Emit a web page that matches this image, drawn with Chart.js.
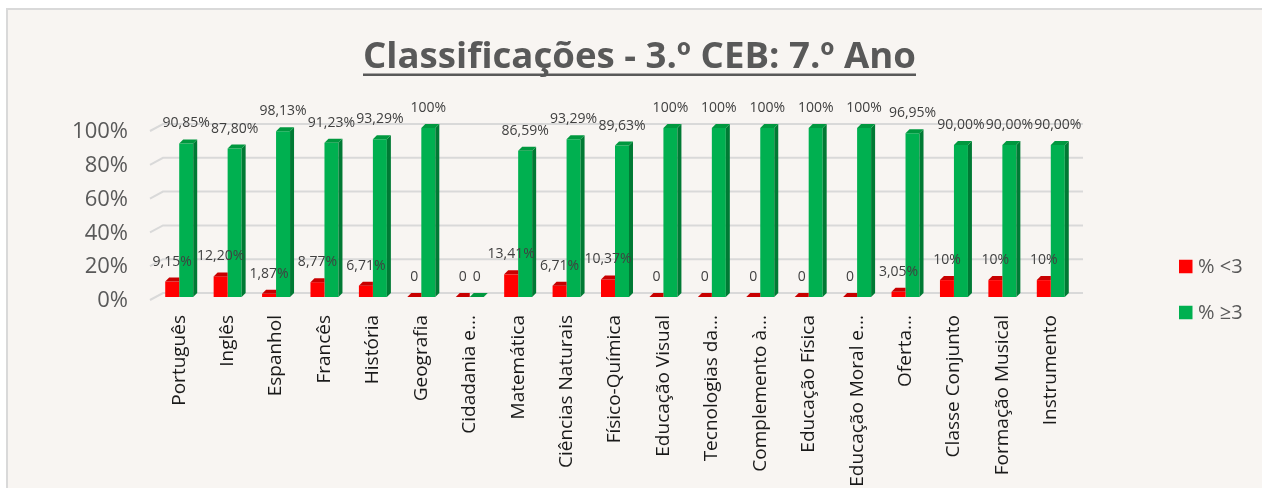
<!DOCTYPE html>
<html><head><meta charset="utf-8">
<script src="https://cdn.jsdelivr.net/npm/chart.js@4.4.1/dist/chart.umd.min.js"></script>
<style>
html,body{margin:0;padding:0;background:#fff;width:1262px;height:488px;overflow:hidden}
#frame{position:absolute;left:6px;top:8px;width:1270px;height:490px;background:#f8f5f2;border-left:2px solid #d9d9d9;border-top:2px solid #d9d9d9}
#wrap{position:absolute;left:0;top:0;width:1262px;height:488px}
</style></head><body>
<div id="frame"></div>
<div id="wrap"><canvas id="c" width="1262" height="488"></canvas></div>
<script>
const titleText = 'Classificações - 3.º CEB: 7.º Ano';
const categories = ['Português','Inglês','Espanhol','Francês','História','Geografia','Cidadania e...','Matemática','Ciências Naturais','Físico-Química','Educação Visual','Tecnologias da...','Complemento à...','Educação Física','Educação Moral e...','Oferta...','Classe Conjunto','Formação Musical','Instrumento'];
const seriesNames = ['% <3', '% \u22653'];
const lowValues = [9.15,12.20,1.87,8.77,6.71,0,0,13.41,6.71,10.37,0,0,0,0,0,3.05,10,10,10];
const highValues = [90.85,87.80,98.13,91.23,93.29,100,0,86.59,93.29,89.63,100,100,100,100,100,96.95,90,90,90];
const lowLabels = ['9,15%','12,20%','1,87%','8,77%','6,71%','0','0','13,41%','6,71%','10,37%','0','0','0','0','0','3,05%','10%','10%','10%'];
const highLabels = ['90,85%','87,80%','98,13%','91,23%','93,29%','100%','0','86,59%','93,29%','89,63%','100%','100%','100%','100%','100%','96,95%','90,00%','90,00%','90,00%'];
const yTickValues = [0,20,40,60,80,100];

const frontColors = ['#ff0000', '#00b050'];
const topColors = ['#c80000', '#00983f'];
const sideColors = ['#a00000', '#007a34'];
const pointLabels = [lowLabels, highLabels];

const DX = 4, DY = 4;

const backGrid = {
  id: 'backGrid',
  beforeDatasetsDraw(chart) {
    const ctx = chart.ctx, ys = chart.scales.y, a = chart.chartArea;
    ctx.save();
    ctx.strokeStyle = '#d9d9d9';
    ctx.lineWidth = 2;
    ys.ticks.forEach(t => {
      const py = ys.getPixelForValue(t.value);
      ctx.beginPath();
      ctx.moveTo(a.left - 5, py + 3);
      ctx.lineTo(a.left + 8, py - 4);
      ctx.lineTo(a.right + 8, py - 4);
      ctx.stroke();
    });
    ctx.restore();
  }
};

// 3D faces: the red column's right side is hidden behind the adjacent green column
const bar3d = {
  id: 'bar3d',
  afterDatasetsDraw(chart) {
    const ctx = chart.ctx;
    ctx.save();
    chart.data.datasets.forEach((ds, i) => {
      const last = i === chart.data.datasets.length - 1;
      chart.getDatasetMeta(i).data.forEach(el => {
        const p = el.getProps(['x','y','base','width'], true);
        const l = p.x - p.width / 2, r = p.x + p.width / 2;
        if (last) {
          ctx.fillStyle = sideColors[i];
          ctx.beginPath();
          ctx.moveTo(r, p.y); ctx.lineTo(r + DX, p.y - DY); ctx.lineTo(r + DX, p.base - DY); ctx.lineTo(r, p.base);
          ctx.closePath(); ctx.fill();
        }
        const rr = last ? r + DX : r;
        ctx.fillStyle = topColors[i];
        ctx.beginPath();
        ctx.moveTo(l, p.y); ctx.lineTo(l + DX, p.y - DY); ctx.lineTo(rr, p.y - DY); ctx.lineTo(r, p.y);
        ctx.closePath(); ctx.fill();
      });
    });
    ctx.restore();
  }
};

const valueLabels = {
  id: 'valueLabels',
  afterDatasetsDraw(chart) {
    const ctx = chart.ctx;
    ctx.save();
    ctx.font = '14px "Open Sans"';
    ctx.fillStyle = '#404040';
    ctx.textAlign = 'center';
    ctx.textBaseline = 'middle';
    chart.data.datasets.forEach((ds, i) => {
      chart.getDatasetMeta(i).data.forEach((el, j) => {
        ctx.fillText(pointLabels[i][j], el.x, el.y - 20);
      });
    });
    ctx.restore();
  }
};

const titleAndLegend = {
  id: 'titleAndLegend',
  afterDraw(chart) {
    const ctx = chart.ctx;
    ctx.save();
    // title
    ctx.font = 'bold 36px "Open Sans"';
    ctx.fillStyle = '#595959';
    ctx.textBaseline = 'alphabetic';
    ctx.textAlign = 'left';
    const w = ctx.measureText(titleText).width;
    const target = 553;
    const sx = target / w;
    const cx = 639.5, base = 68;
    ctx.save();
    ctx.translate(cx - target / 2, base);
    ctx.scale(sx, 1);
    ctx.fillText(titleText, 0, 0);
    ctx.restore();
    ctx.fillRect(cx - target / 2, 73.5, target, 2.5);
    // legend
    const a = chart.chartArea;
    const lx = a.right + 104;
    const centers = [266.5, 312.5];
    ctx.font = '20px "Open Sans"';
    ctx.textBaseline = 'middle';
    chart.data.datasets.forEach((ds, i) => {
      ctx.fillStyle = frontColors[i];
      ctx.fillRect(lx, centers[i] - 6.75, 13.5, 13.5);
      ctx.fillStyle = '#595959';
      ctx.fillText(ds.label, lx + 19, centers[i] + 1);
    });
    ctx.restore();
  }
};

new Chart(document.getElementById('c'), {
  type: 'bar',
  data: {
    labels: categories,
    datasets: [
      { label: seriesNames[0], data: lowValues, backgroundColor: frontColors[0] },
      { label: seriesNames[1], data: highValues, backgroundColor: frontColors[1] }
    ]
  },
  options: {
    responsive: false,
    devicePixelRatio: 1,
    animation: false,
    events: [],
    layout: { padding: { top: 128, right: 187, bottom: 0, left: 0 } },
    datasets: { bar: { categoryPercentage: 0.578, barPercentage: 1.0 } },
    plugins: { legend: { display: false }, title: { display: false }, tooltip: { enabled: false } },
    scales: {
      x: {
        grid: { display: false, drawTicks: false },
        border: { display: false },
        ticks: {
          autoSkip: false, maxRotation: 90, minRotation: 90, padding: 18,
          color: '#1a1a1a', font: { family: 'Open Sans', size: 19 }
        },
        afterFit(scale) { scale.height = 191; }
      },
      y: {
        min: 0, max: 100,
        afterBuildTicks(scale) { scale.ticks = yTickValues.map(v => ({ value: v })); },
        grid: { display: false, drawTicks: false },
        border: { display: false },
        ticks: {
          padding: 27, labelOffset: 4,
          color: '#595959', font: { family: 'Open Sans', size: 22 },
          callback: v => v + '%'
        },
        afterFit(scale) { scale.width = 155; }
      }
    }
  },
  plugins: [backGrid, bar3d, valueLabels, titleAndLegend]
});
</script>
</body></html>
